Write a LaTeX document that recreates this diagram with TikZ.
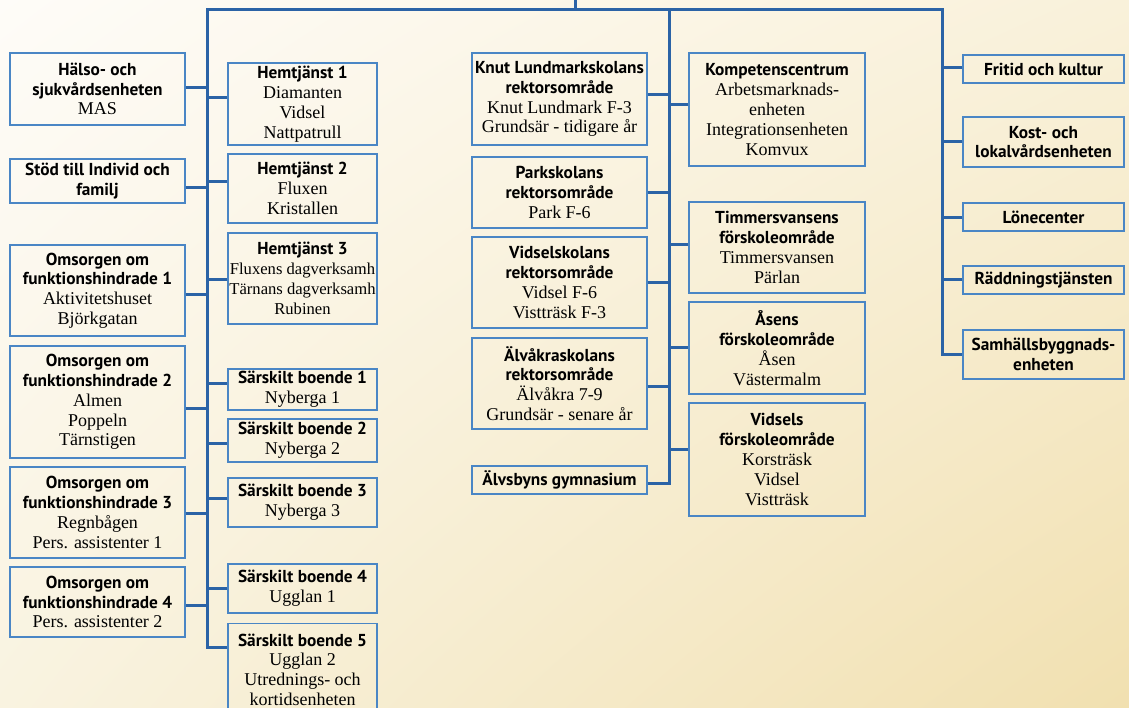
\documentclass[tikz,border=0pt]{standalone}
\usepackage{fontspec}
\setmainfont{Liberation Serif}
\newfontfamily\headfont{PT Sans}
\usetikzlibrary{shadings}
\definecolor{orgblue}{HTML}{2B63A6}
\definecolor{boxblue}{HTML}{4A86C5}
\definecolor{bgUL}{RGB}{254,252,248}
\definecolor{bgUR}{RGB}{249,241,218}
\definecolor{bgLL}{RGB}{249,243,224}
\definecolor{bgLR}{RGB}{241,224,176}
\newcommand{\hd}[1]{{\headfont\bfseries\fontsize{17.3}{19.8}\selectfont #1}}
\tikzset{
unit/.style={ % Sets the properties for each unit box
draw=boxblue,
line width=1.1pt,
align=center,
inner sep=0pt,
font=\fontsize{18}{19.8}\selectfont},
colA/.style={unit, minimum width=175pt},
colB/.style={unit, minimum width=149pt},
colC/.style={unit, minimum width=175pt},
colD/.style={unit, minimum width=176pt},
colE/.style={unit, minimum width=161pt},
link/.style={ % Sets the properties for each connector
draw=orgblue,
line width=3pt}}

\begin{document}
\begin{tikzpicture}[x=1pt,y=-1pt]
\shade[upper left=bgUL, upper right=bgUR, lower left=bgLL, lower right=bgLR] (0,0) rectangle (1129,708);
\useasboundingbox (0,0) rectangle (1129,708);

\coordinate (root) at (575,0);
\coordinate (top) at (575,10);
\coordinate (aTop) at (207,10);
\coordinate (bTop) at (669,10);
\coordinate (cTop) at (942,10);
\coordinate (aEnd) at (207,647);
\coordinate (bEnd) at (669,483);
\coordinate (cEnd) at (942,354);

\node[colA, minimum height=72pt] (halso) at (97.5,89) {\hd{Hälso- och}\\\hd{sjukvårdsenheten}\\MAS};
\node[colA, minimum height=44pt] (stod) at (97.5,181) {\hd{Stöd till Individ och}\\\hd{familj}};
\node[colA, minimum height=91pt] (oms1) at (97.5,290.5) {\hd{Omsorgen om}\\\hd{funktionshindrade 1}\\Aktivitetshuset\\Björkgatan};
\node[colA, minimum height=112pt] (oms2) at (97.5,402) {\hd{Omsorgen om}\\\hd{funktionshindrade 2}\\Almen\\Poppeln\\Tärnstigen};
\node[colA, minimum height=91pt] (oms3) at (97.5,512.5) {\hd{Omsorgen om}\\\hd{funktionshindrade 3}\\Regnbågen\\Pers. assistenter 1};
\node[colA, minimum height=70pt] (oms4) at (97.5,602) {\hd{Omsorgen om}\\\hd{funktionshindrade 4}\\Pers. assistenter 2};

\node[colB, minimum height=82pt] (hem1) at (302.5,104) {\hd{Hemtjänst 1}\\Diamanten\\Vidsel\\Nattpatrull};
\node[colB, minimum height=69pt] (hem2) at (302.5,188.5) {\hd{Hemtjänst 2}\\Fluxen\\Kristallen};
\node[colB, minimum height=91pt, font=\fontsize{16.6}{19.8}\selectfont] (hem3) at (302.5,278.5) {\hd{Hemtjänst 3}\\Fluxens dagverksamh\\Tärnans dagverksamh\\Rubinen};
\node[colB, minimum height=41pt] (sar1) at (302.5,389.5) {\hd{Särskilt boende 1}\\Nyberga 1};
\node[colB, minimum height=43pt] (sar2) at (302.5,440.5) {\hd{Särskilt boende 2}\\Nyberga 2};
\node[colB, minimum height=49pt] (sar3) at (302.5,502.5) {\hd{Särskilt boende 3}\\Nyberga 3};
\node[colB, minimum height=49pt] (sar4) at (302.5,588.5) {\hd{Särskilt boende 4}\\Ugglan 1};
\node[colB, minimum height=92pt, anchor=north] (sar5) at (302.5,623) {\hd{Särskilt boende 5}\\Ugglan 2\\Utrednings- och\\kortidsenheten};

\node[colC, minimum height=92pt] (knut) at (559.5,99) {\hd{Knut Lundmarkskolans}\\\hd{rektorsområde}\\Knut Lundmark F-3\\Grundsär - tidigare år};
\node[colC, minimum height=71pt] (park) at (559.5,192.5) {\hd{Parkskolans}\\\hd{rektorsområde}\\Park F-6};
\node[colC, minimum height=91pt] (vidselsk) at (559.5,282.5) {\hd{Vidselskolans}\\\hd{rektorsområde}\\Vidsel F-6\\Vistträsk F-3};
\node[colC, minimum height=91pt] (alvakra) at (559.5,383.5) {\hd{Älvåkraskolans}\\\hd{rektorsområde}\\Älvåkra 7-9\\Grundsär - senare år};
\node[colC, minimum height=28pt] (alvsbyn) at (559.5,480) {\hd{Älvsbyns gymnasium}};

\node[colD, minimum height=113pt] (komp) at (777,109.5) {\hd{Kompetenscentrum}\\Arbetsmarknads-\\enheten\\Integrationsenheten\\Komvux};
\node[colD, minimum height=91pt] (timm) at (777,247.5) {\hd{Timmersvansens}\\\hd{förskoleområde}\\Timmersvansen\\Pärlan};
\node[colD, minimum height=92pt] (asens) at (777,348) {\hd{Åsens}\\\hd{förskoleområde}\\Åsen\\Västermalm};
\node[colD, minimum height=113pt] (vidsels) at (777,459.5) {\hd{Vidsels}\\\hd{förskoleområde}\\Korsträsk\\Vidsel\\Vistträsk};

\node[colE, minimum height=28pt] (fritid) at (1043.5,69) {\hd{Fritid och kultur}};
\node[colE, minimum height=50pt] (kost) at (1043.5,142) {\hd{Kost- och}\\\hd{lokalvårdsenheten}};
\node[colE, minimum height=28pt] (lone) at (1043.5,217) {\hd{Lönecenter}};
\node[colE, minimum height=28pt] (radd) at (1043.5,280) {\hd{Räddningstjänsten}};
\node[colE, minimum height=49pt] (samh) at (1043.5,354.5) {\hd{Samhällsbyggnads-}\\\hd{enheten}};

\draw[link] (root) -- (top);
\draw[link] (sar5.west |- aEnd) -- (aEnd) -- (aTop) -- (cTop) -- (cEnd) -- (samh.west |- cEnd);
\draw[link] (bTop) -- (bEnd) -- (alvsbyn.east |- bEnd);
\foreach \n/\y in {halso/88, stod/188, oms1/295, oms2/408, oms3/513, oms4/605}
  \draw[link] (\n.east |- 0,\y) -- (aTop |- 0,\y);
\foreach \n/\y in {hem1/98, hem2/182, hem3/280, sar1/383, sar2/443, sar3/498, sar4/588}
  \draw[link] (\n.west |- 0,\y) -- (aTop |- 0,\y);
\foreach \n/\y in {knut/95, park/193, vidselsk/283, alvakra/386}
  \draw[link] (\n.east |- 0,\y) -- (bTop |- 0,\y);
\foreach \n/\y in {komp/105, timm/245, asens/347, vidsels/449}
  \draw[link] (\n.west |- 0,\y) -- (bTop |- 0,\y);
\foreach \n/\y in {fritid/68, kost/142, lone/218, radd/280}
  \draw[link] (\n.west |- 0,\y) -- (cTop |- 0,\y);
\end{tikzpicture}
\end{document}
